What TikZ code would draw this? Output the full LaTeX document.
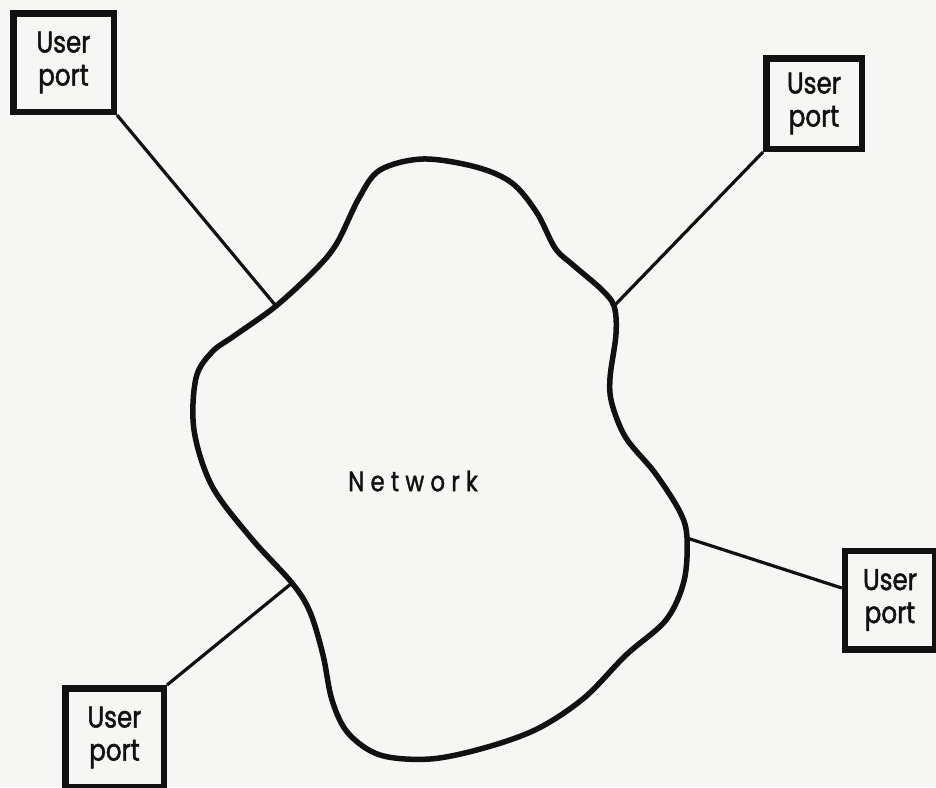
\documentclass[tikz,border=0pt]{standalone}
\usepackage{fontspec}
\setmainfont{Poppins}[FakeStretch=0.82, FakeBold=1.6]
\newfontfamily\netfont{Poppins}[FakeStretch=0.82, FakeBold=1.4, LetterSpace=22]
\definecolor{paper}{RGB}{246,246,244}
\definecolor{ink}{RGB}{17,17,17}
\tikzset{
  port/.style={draw=ink, line width=6.5pt, align=center, inner sep=0pt,
    text=ink, font=\fontsize{30}{33}\selectfont},
  link/.style={draw=ink, line width=3.2pt},
  cloudline/.style={draw=ink, line width=5.5pt, line join=round}
}
\begin{document}
\begin{tikzpicture}[x=1pt, y=-1pt]
\fill[paper] (0,0) rectangle (936,787);
\useasboundingbox (0,0) rectangle (936,787);

% attachment points on the cloud
\coordinate (cTL) at (276,306);
\coordinate (cTR) at (614,306);
\coordinate (cR)  at (687,538);
\coordinate (cBL) at (292,583);

\draw[cloudline] plot[smooth cycle, tension=0.55] coordinates {
  (423,159) (476,167) (512,183) (537,213) (555,248) (573,265) (601,289) (cTR)
  (616,334) (610,378) (612,404) (626,438) (655,473) (680,512) (cR)
  (684,581) (666,620) (626,655) (584,698) (537,729) (484,748) (430,759)
  (380,755) (348,733) (332,700) (323,655) (310,612) (cBL)
  (251,538) (212,486) (194,430) (196,378) (212,352) (234,336) (cTL)
  (316,269) (337,243) (359,198) (380,170)
};

\node[text=ink, font=\netfont\fontsize{28}{30}\selectfont] (net) at (413,481) {Network};

\node[port, minimum width=100.5pt, minimum height=98.5pt] (tl) at (63.5,62.5) {User\\port};
\node[port, minimum width=95.5pt, minimum height=90.5pt] (tr) at (814,103.5) {User\\port};
\node[port, minimum width=90pt, minimum height=98.5pt] (r) at (890,600) {User\\port};
\node[port, minimum width=98.5pt, minimum height=98.5pt] (bl) at (114.5,737.5) {User\\port};

\draw[link] (tl.south east) -- (cTL);
\draw[link] (tr.south west) -- (cTR);
\draw[link] ([yshift=12pt]r.west) -- (cR);
\draw[link] (bl.north east) -- (cBL);
\end{tikzpicture}
\end{document}
